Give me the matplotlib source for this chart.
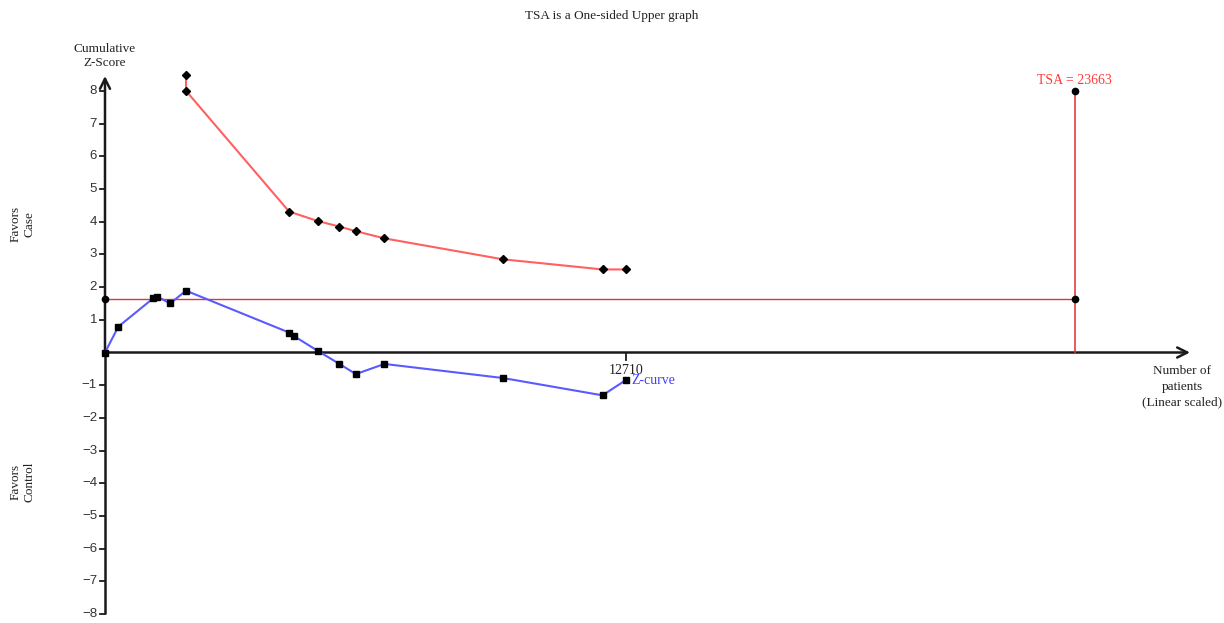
import matplotlib
matplotlib.use("Agg")
import matplotlib.pyplot as plt

# Cumulative Z-curve (blue) and upper monitoring boundary (red)
z_patients = [0, 325, 1179, 1277, 1587, 1977, 4491, 4613, 5191, 5719, 6119, 6817, 9707, 12138, 12710]
z_scores = [0, 0.79, 1.66, 1.71, 1.50, 1.89, 0.61, 0.50, 0.05, -0.35, -0.66, -0.35, -0.78, -1.31, -0.84]

bound_patients = [1977, 1977, 4491, 5191, 5719, 6119, 6817, 9707, 12138, 12710]
bound_scores = [8.49, 8.0, 4.31, 4.02, 3.85, 3.71, 3.49, 2.85, 2.54, 2.54]

conventional_z = 1.645
tsa_n = 23663
tsa_top = 8
current_n = 12710
y_ticks = [8, 7, 6, 5, 4, 3, 2, 1, -1, -2, -3, -4, -5, -6, -7, -8]

W, H = 1224, 623
fig = plt.figure(figsize=(W / 100, H / 100), dpi=100)
ax = fig.add_axes([0, 0, 1, 1])
ax.set_axis_off()

# linear scale: patients -> horizontal, z -> vertical
ppx = 521 / 12710.0
x_org = 105
ppz = 32.7
y_org = 352.5
ax.set_xlim(-x_org / ppx, (W - x_org) / ppx)
ax.set_ylim(-(H - y_org) / ppz, y_org / ppz)

xmax_axis = (1190 - x_org) / ppx
ytop_axis = (y_org - 76) / ppz

serif = "Liberation Serif"
sans = "Liberation Sans"
axc = "#1a1a1a"

# axes with open arrow heads
ax.plot([0, 0], [-8, 0], color=axc, lw=1.8, solid_capstyle="butt", zorder=2)
ax.annotate("", xy=(0, ytop_axis), xytext=(0, -0.02),
            arrowprops=dict(arrowstyle="->", color=axc, lw=1.8,
                            mutation_scale=18, shrinkA=0, shrinkB=0), zorder=2)
ax.annotate("", xy=(xmax_axis, 0), xytext=(0, 0),
            arrowprops=dict(arrowstyle="->", color=axc, lw=1.8,
                            mutation_scale=18, shrinkA=0, shrinkB=0), zorder=2)

# y ticks
tick_len = 5 / ppx
for t in y_ticks:
    ax.plot([-tick_len, 0], [t, t], color=axc, lw=1.3, zorder=2)
    ax.text(-8 / ppx, t, f"{t}".replace("-", "\u2212"), ha="right", va="center",
            fontsize=9.5, family=sans, color="#333333")

# x tick at current information size
ax.plot([current_n, current_n], [0, -7 / ppz], color=axc, lw=1.3, zorder=2)
ax.text(current_n, -0.55, f"{current_n}", ha="center", va="center",
        fontsize=10, family=serif, color="#222222")

# conventional boundary and required information size
ax.plot([0, tsa_n], [conventional_z, conventional_z], color="#d83838", lw=1.0, zorder=3)
ax.plot([tsa_n, tsa_n], [0, tsa_top], color="#e03030", lw=1.1, zorder=3)
ax.plot([0, tsa_n, tsa_n], [conventional_z, conventional_z, tsa_top], ls="none",
        marker="o", ms=4.5, color="black", zorder=5)
ax.text(tsa_n - 38 / ppx, tsa_top + 0.33, f"TSA = {tsa_n}", ha="left", va="center",
        fontsize=10, family=serif, color="#ff3b3b")

# monitoring boundary
ax.plot(bound_patients, bound_scores, color="#ff6060", lw=1.5, marker="D", ms=3.6,
        mfc="black", mec="black", zorder=4)

# cumulative z-curve
ax.plot(z_patients, z_scores, color="#5a5aff", lw=1.5, marker="s", ms=4.5,
        mfc="black", mec="black", zorder=4)
ax.text(z_patients[-1] + 5 / ppx, z_scores[-1] - 0.02, "Z-curve", ha="left", va="center",
        fontsize=10, family=serif, color="#4040ff")

# labels
fig.text(612 / W, 1 - 16 / H, "TSA is a One-sided Upper graph", ha="center", va="center",
         fontsize=9.5, family=serif, color="#222222")
fig.text(105 / W, 1 - 56 / H, "Cumulative\nZ-Score", ha="center", va="center",
         fontsize=9.5, family=serif, color="#222222", linespacing=1.3)
fig.text(1182 / W, 1 - 387 / H, "Number of\npatients\n(Linear scaled)", ha="center",
         va="center", fontsize=9.5, family=serif, color="#222222", linespacing=1.4)
fig.text(23 / W, 1 - 224 / H, "Favors\nCase", ha="center", va="center", rotation=90,
         fontsize=9.5, family=serif, color="#222222", linespacing=1.2)
fig.text(23 / W, 1 - 482 / H, "Favors\nControl", ha="center", va="center", rotation=90,
         fontsize=9.5, family=serif, color="#222222", linespacing=1.2)

fig.savefig("out.png", dpi=100, facecolor="white")
